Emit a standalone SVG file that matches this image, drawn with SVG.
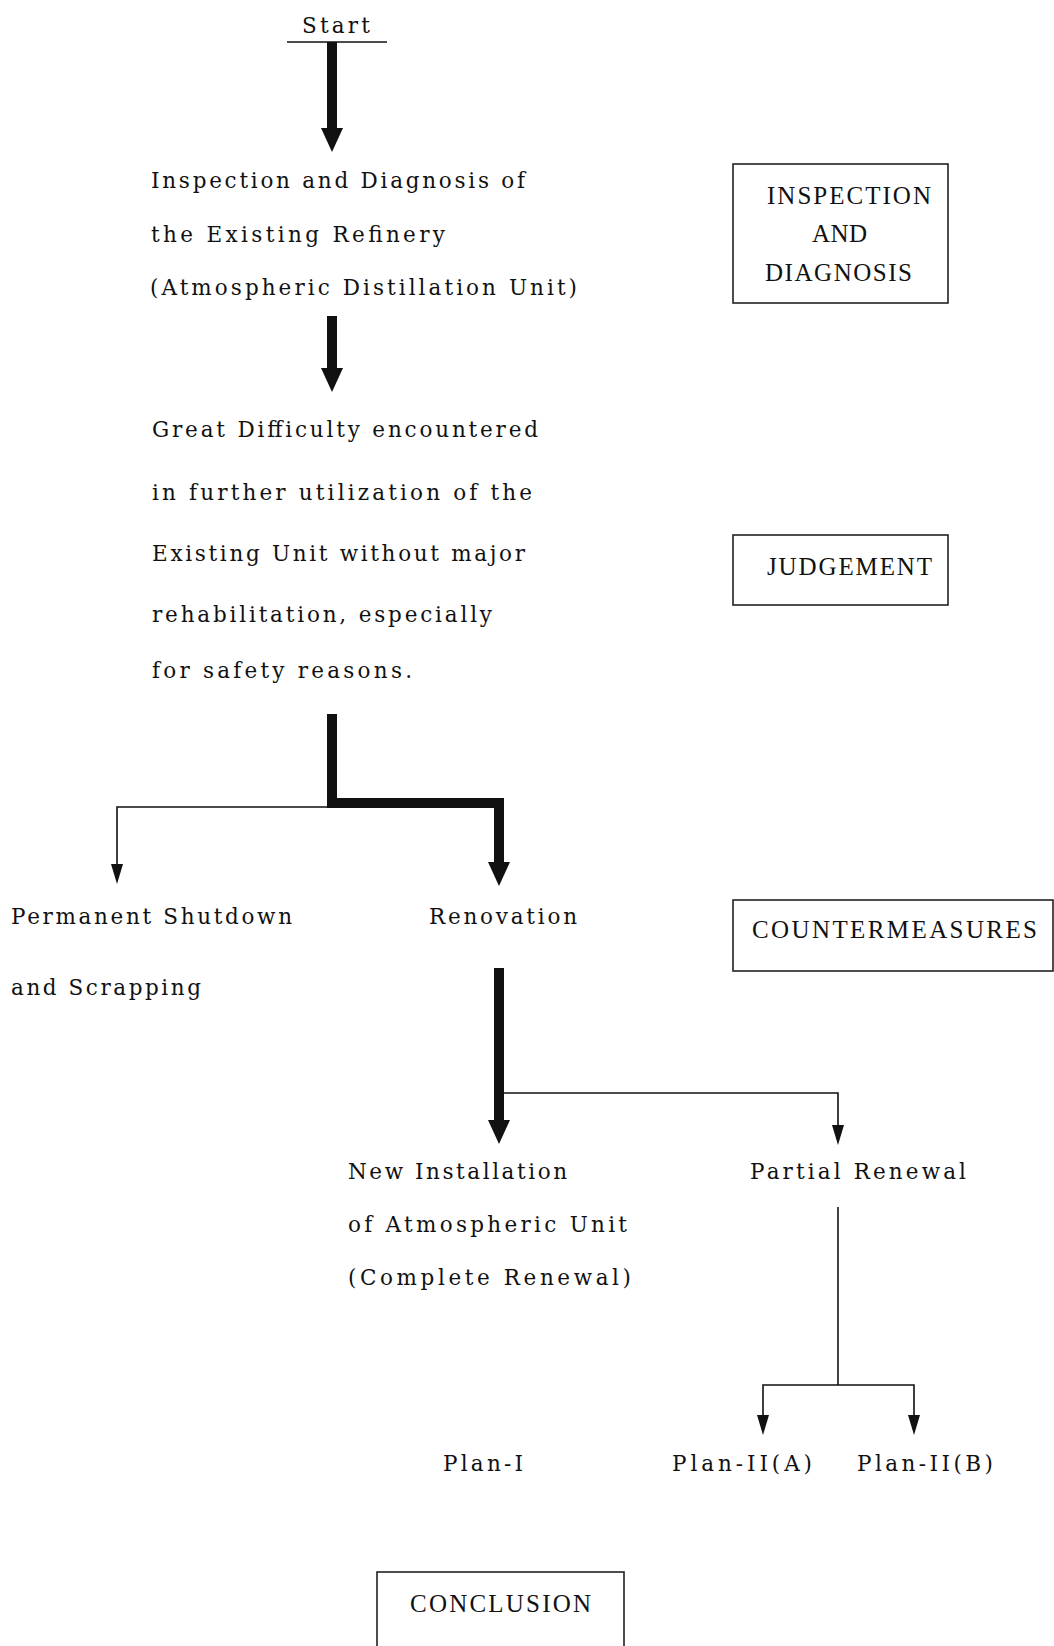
<svg xmlns="http://www.w3.org/2000/svg" width="1054" height="1646" viewBox="0 0 1054 1646">
<defs>
<style>
text { fill: #111; }
.t { font-family: "DejaVu Serif", "Liberation Serif", serif; font-size: 21.5px; }
.b { font-family: "Liberation Serif", "Times New Roman", serif; font-size: 25px; }
.box { fill: #fff; stroke: #222; stroke-width: 1.6; }
.thin { fill: none; stroke: #111; stroke-width: 1.6; }
.thinh { fill: none; stroke: #111; stroke-width: 1.6; marker-end: url(#ahThin); }
.thickh { fill: none; stroke: #111; stroke-width: 10; marker-end: url(#ahThick); }
</style>
<marker id="ahThick" markerUnits="userSpaceOnUse" viewBox="0 -12 24 24" markerWidth="24" markerHeight="24" refX="0" refY="0" orient="auto">
<path d="M0,-11 L24,0 L0,11 z" fill="#111"/>
</marker>
<marker id="ahThin" markerUnits="userSpaceOnUse" viewBox="0 -6 20 12" markerWidth="20" markerHeight="12" refX="0" refY="0" orient="auto">
<path d="M0,-6 L20,0 L0,6 z" fill="#111"/>
</marker>
</defs>
<rect width="1054" height="1646" fill="#fff"/>

<g id="connectors">
<line class="thin" x1="287" y1="42" x2="387" y2="42"/>
<path class="thickh" d="M332,42 V128"/>
<path class="thickh" d="M332,316 V368"/>
<path class="thinh" d="M332,807 H117 V864"/>
<path class="thickh" d="M332,714 V803 H499 V862"/>
<path class="thickh" d="M499,968 V1120"/>
<path class="thinh" d="M504,1093 H838 V1125"/>
<path class="thin" d="M838,1207 V1385"/>
<path class="thinh" d="M838,1385 H763 V1415"/>
<path class="thinh" d="M838,1385 H914 V1415"/>
</g>

<g id="start">
<text class="t" x="302" y="33" textLength="68" lengthAdjust="spacing">Start</text>
</g>

<g id="inspection">
<text class="t" x="151" y="188" textLength="374" lengthAdjust="spacing">Inspection and Diagnosis of</text>
<text class="t" x="151" y="242" textLength="294" lengthAdjust="spacing">the Existing Refinery</text>
<text class="t" x="150" y="295" textLength="427" lengthAdjust="spacing">(Atmospheric Distillation Unit)</text>
</g>

<g id="judgement-text">
<text class="t" x="152" y="437" textLength="386" lengthAdjust="spacing">Great Difficulty encountered</text>
<text class="t" x="152" y="500" textLength="380" lengthAdjust="spacing">in further utilization of the</text>
<text class="t" x="152" y="561" textLength="373" lengthAdjust="spacing">Existing Unit without major</text>
<text class="t" x="152" y="622" textLength="340" lengthAdjust="spacing">rehabilitation, especially</text>
<text class="t" x="152" y="678" textLength="260" lengthAdjust="spacing">for safety reasons.</text>
</g>

<g id="shutdown">
<text class="t" x="11" y="924" textLength="281" lengthAdjust="spacing">Permanent Shutdown</text>
<text class="t" x="11" y="995" textLength="190" lengthAdjust="spacing">and Scrapping</text>
</g>

<g id="renovation">
<text class="t" x="429" y="924" textLength="148" lengthAdjust="spacing">Renovation</text>
</g>

<g id="new-installation">
<text class="t" x="348" y="1179" textLength="219" lengthAdjust="spacing">New Installation</text>
<text class="t" x="348" y="1232" textLength="279" lengthAdjust="spacing">of Atmospheric Unit</text>
<text class="t" x="348" y="1285" textLength="283" lengthAdjust="spacing">(Complete Renewal)</text>
</g>

<g id="partial-renewal">
<text class="t" x="750" y="1179" textLength="216" lengthAdjust="spacing">Partial Renewal</text>
</g>

<g id="plan-1">
<text class="t" x="443" y="1471" textLength="80" lengthAdjust="spacing">Plan-I</text>
</g>
<g id="plan-2a">
<text class="t" x="672" y="1471" textLength="140" lengthAdjust="spacing">Plan-II(A)</text>
</g>
<g id="plan-2b">
<text class="t" x="857" y="1471" textLength="136" lengthAdjust="spacing">Plan-II(B)</text>
</g>

<g id="box-inspection">
<rect class="box" x="733" y="164" width="215" height="139"/>
<text class="b" x="767" y="204" textLength="164" lengthAdjust="spacing">INSPECTION</text>
<text class="b" x="812" y="242" textLength="55" lengthAdjust="spacing">AND</text>
<text class="b" x="765" y="281" textLength="147" lengthAdjust="spacing">DIAGNOSIS</text>
</g>

<g id="box-judgement">
<rect class="box" x="733" y="535" width="215" height="70"/>
<text class="b" x="767" y="575" textLength="165" lengthAdjust="spacing">JUDGEMENT</text>
</g>

<g id="box-countermeasures">
<rect class="box" x="733" y="900" width="320" height="71"/>
<text class="b" x="752" y="938" textLength="285" lengthAdjust="spacing">COUNTERMEASURES</text>
</g>

<g id="box-conclusion">
<rect class="box" x="377" y="1572" width="247" height="90"/>
<text class="b" x="410" y="1612" textLength="181" lengthAdjust="spacing">CONCLUSION</text>
</g>
</svg>
